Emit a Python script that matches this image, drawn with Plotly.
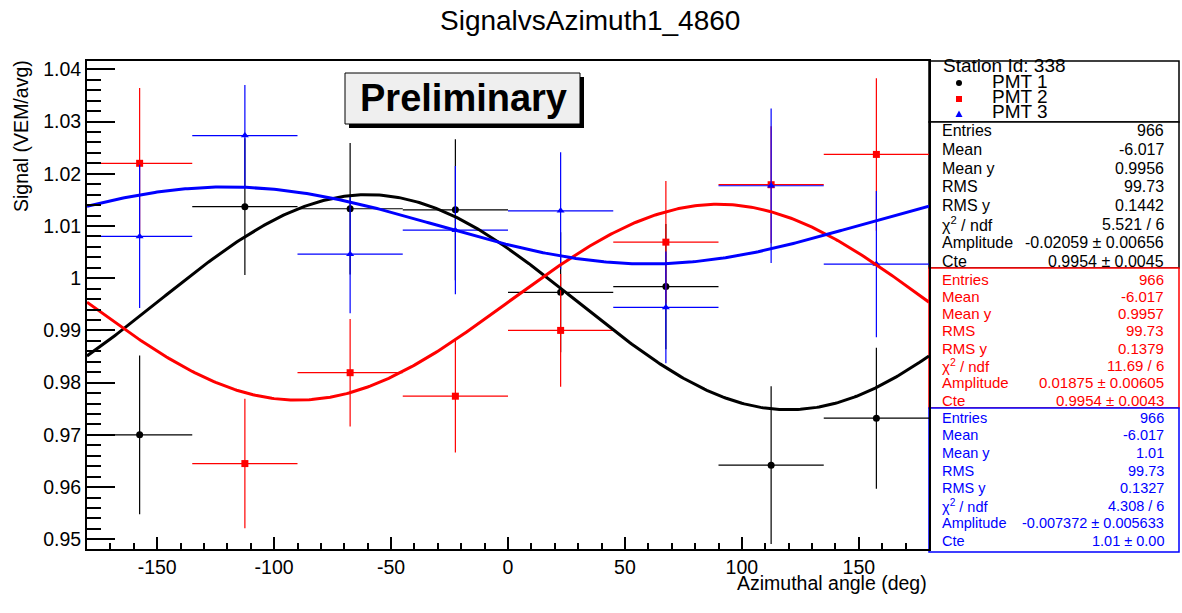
import numpy as np
import plotly.graph_objects as go

# ---------------- data ----------------
bin_centers = [-157.5, -112.5, -67.5, -22.5, 22.5, 67.5, 112.5, 157.5]
bin_half_width = [22.5, 22.5, 22.5, 22.5, 22.5, 22.5, 22.5, 22.5]

pmt1_signal = [0.9700, 1.0137, 1.0133, 1.0131, 0.9973, 0.9984, 0.9642, 0.9732]
pmt1_err = [0.0152, 0.0131, 0.0126, 0.0135, 0.0115, 0.0120, 0.0151, 0.0135]

pmt2_signal = [1.0220, 0.9645, 0.9819, 0.9774, 0.9900, 1.0069, 1.0179, 1.0237]
pmt2_err = [0.0144, 0.0124, 0.0103, 0.0108, 0.0108, 0.0117, 0.0112, 0.0146]

pmt3_signal = [1.0080, 1.0273, 1.0046, 1.0092, 1.0129, 0.9944, 1.0177, 1.0027]
pmt3_err = [0.0137, 0.0097, 0.0113, 0.0123, 0.0112, 0.0107, 0.0148, 0.0140]

# fit parameters: Cte + Amplitude * sin(phi - phase)
fit_amplitude = [-0.02059, 0.01875, -0.007372]
fit_cte = [0.9954, 0.9954, 1.0101]
fit_phase_deg = [30.0, 0.0, -30.0]

pmt_names = ["PMT 1", "PMT 2", "PMT 3"]
pmt_colors = ["#000000", "#ff0000", "#0000ff"]
pmt_symbols = ["circle", "square", "triangle-up"]

x_tick_vals = [-150, -100, -50, 0, 50, 100, 150]
x_tick_text = ["-150", "-100", "-50", "0", "50", "100", "150"]
y_tick_vals = [0.95, 0.96, 0.97, 0.98, 0.99, 1.00, 1.01, 1.02, 1.03, 1.04]
y_tick_text = ["0.95", "0.96", "0.97", "0.98", "0.99", "1", "1.01", "1.02", "1.03", "1.04"]

stat_labels = ["Entries", "Mean", "Mean y", "RMS", "RMS y", "χ<sup>2</sup> / ndf", "Amplitude", "Cte"]
stat_values_pmt1 = ["966", "-6.017", "0.9956", "99.73", "0.1442", "5.521 / 6", "-0.02059 ± 0.00656", "0.9954 ± 0.0045"]
stat_values_pmt2 = ["966", "-6.017", "0.9957", "99.73", "0.1379", "11.69 / 6", "0.01875 ± 0.00605", "0.9954 ± 0.0043"]
stat_values_pmt3 = ["966", "-6.017", "1.01", "99.73", "0.1327", "4.308 / 6", "-0.007372 ± 0.005633", "1.01 ± 0.00"]

FONT = "Liberation Sans, Arial, Helvetica, sans-serif"
W, H = 1182, 613
L, R, T, B = 87, 929, 61, 549


def px(x):
    return (x - L) / (R - L)


def py(y):
    return (B - y) / (B - T)


fig = go.Figure()

signals = [pmt1_signal, pmt2_signal, pmt3_signal]
errors = [pmt1_err, pmt2_err, pmt3_err]
for i in range(3):
    fig.add_trace(go.Scatter(
        x=bin_centers, y=signals[i], mode="markers",
        marker=dict(symbol=pmt_symbols[i], size=7, color=pmt_colors[i]),
        error_x=dict(type="data", array=bin_half_width, color=pmt_colors[i], thickness=1.2, width=0),
        error_y=dict(type="data", array=errors[i], color=pmt_colors[i], thickness=1.2, width=0),
        showlegend=False, cliponaxis=True,
    ))

phi = np.linspace(-180, 180, 361)
for i in range(3):
    curve = fit_cte[i] + fit_amplitude[i] * np.sin(np.radians(phi - fit_phase_deg[i]))
    fig.add_trace(go.Scatter(x=phi, y=curve, mode="lines",
                             line=dict(color=pmt_colors[i], width=3),
                             showlegend=False, hoverinfo="skip"))

shapes = []
annotations = []

# Preliminary box with shadow
shapes.append(dict(type="rect", xref="paper", yref="paper",
                   x0=px(349), x1=px(584), y0=py(128), y1=py(77),
                   fillcolor="#000000", line=dict(width=0)))
shapes.append(dict(type="rect", xref="paper", yref="paper",
                   x0=px(345), x1=px(580), y0=py(124), y1=py(73),
                   fillcolor="#efefef", line=dict(color="#000000", width=1)))
annotations.append(dict(text="<b>Preliminary</b>", xref="paper", yref="paper",
                        x=px(463), y=py(98), xanchor="center", yanchor="middle",
                        showarrow=False, font=dict(family=FONT, size=38, color="#000000")))

# legend box
shapes.append(dict(type="rect", xref="paper", yref="paper",
                   x0=px(929), x1=px(1179), y0=py(122), y1=py(61),
                   fillcolor="white", line=dict(color="#000000", width=1.5), layer="below"))
annotations.append(dict(text="Station Id: 338", xref="paper", yref="paper",
                        x=px(941), y=py(65), xanchor="left", yanchor="middle",
                        showarrow=False, font=dict(family=FONT, size=19, color="#000000")))
leg_y = [81, 96.5, 111.5]
mk_y = [83, 99, 114]
for i in range(3):
    annotations.append(dict(text=pmt_names[i], xref="paper", yref="paper",
                            x=px(990), y=py(leg_y[i]), xanchor="left", yanchor="middle",
                            showarrow=False, font=dict(family=FONT, size=19, color="#000000")))
cx = 959
shapes.append(dict(type="circle", xref="paper", yref="paper",
                   x0=px(cx - 3), x1=px(cx + 3), y0=py(mk_y[0] + 3), y1=py(mk_y[0] - 3),
                   fillcolor="#000000", line=dict(width=0)))
shapes.append(dict(type="rect", xref="paper", yref="paper",
                   x0=px(cx - 3), x1=px(cx + 3), y0=py(mk_y[1] + 3), y1=py(mk_y[1] - 3),
                   fillcolor="#ff0000", line=dict(width=0)))
shapes.append(dict(type="path", xref="paper", yref="paper",
                   path="M {} {} L {} {} L {} {} Z".format(px(cx - 3.5), py(mk_y[2] + 3), px(cx + 3.5), py(mk_y[2] + 3), px(cx), py(mk_y[2] - 3.5)),
                   fillcolor="#0000ff", line=dict(width=0)))

# stat boxes
boxes = [
    (stat_values_pmt1, "#000000", 122, 268, 130.7, 18.7, 16),
    (stat_values_pmt2, "#ff0000", 268, 408, 279.0, 17.3, 15),
    (stat_values_pmt3, "#0000ff", 408, 552, 417.7, 17.6, 14.5),
]
for vals, col, y0, y1, r0, step, fs in boxes:
    shapes.append(dict(type="rect", xref="paper", yref="paper",
                       x0=px(929), x1=px(1179), y0=py(y1), y1=py(y0),
                       fillcolor="white", line=dict(color=col, width=1.5), layer="below"))
    for k in range(len(stat_labels)):
        yy = r0 + k * step
        annotations.append(dict(text=stat_labels[k], xref="paper", yref="paper",
                                x=px(940), y=py(yy), xanchor="left", yanchor="middle",
                                showarrow=False, font=dict(family=FONT, size=fs, color=col)))
        annotations.append(dict(text=vals[k], xref="paper", yref="paper",
                                x=px(1166), y=py(yy), xanchor="right", yanchor="middle",
                                showarrow=False, font=dict(family=FONT, size=fs, color=col)))

# titles
annotations.append(dict(text="SignalvsAzimuth1_4860", xref="paper", yref="paper",
                        x=px(590), y=py(21), xanchor="center", yanchor="middle",
                        showarrow=False, font=dict(family=FONT, size=28, color="#000000")))
annotations.append(dict(text="Signal (VEM/avg)", xref="paper", yref="paper",
                        x=px(21), y=py(136), xanchor="center", yanchor="middle", textangle=-90,
                        showarrow=False, font=dict(family=FONT, size=19.5, color="#000000")))
annotations.append(dict(text="Azimuthal angle (deg)", xref="paper", yref="paper",
                        x=px(929), y=py(583), xanchor="right", yanchor="middle",
                        showarrow=False, font=dict(family=FONT, size=19.5, color="#000000")))

fig.update_layout(
    width=W, height=H,
    margin=dict(l=L, r=W - R, t=T, b=H - B, pad=0),
    paper_bgcolor="white", plot_bgcolor="white",
    shapes=shapes, annotations=annotations,
    showlegend=False,
    xaxis=dict(range=[-180, 180], showgrid=False, zeroline=False,
               showline=True, linecolor="#000000", linewidth=2, mirror=True,
               ticks="inside", ticklen=12, tickwidth=1.5, tickcolor="#000000",
               tickvals=x_tick_vals, ticktext=x_tick_text,
               tickfont=dict(family=FONT, size=19.5, color="#000000"),
               minor=dict(ticks="inside", ticklen=6, tickwidth=1.5, tickcolor="#000000", dtick=10, tick0=0, showgrid=False)),
    yaxis=dict(range=[0.94814, 1.04159], showgrid=False, zeroline=False,
               showline=True, linecolor="#000000", linewidth=2, mirror=True,
               ticks="inside", ticklen=28, tickwidth=2, tickcolor="#000000",
               tickvals=y_tick_vals, ticktext=y_tick_text,
               tickfont=dict(family=FONT, size=19.5, color="#000000"),
               minor=dict(ticks="inside", ticklen=14, tickwidth=1.5, tickcolor="#000000", dtick=0.002, tick0=0.95, showgrid=False)),
)

fig.write_html("out.html")
